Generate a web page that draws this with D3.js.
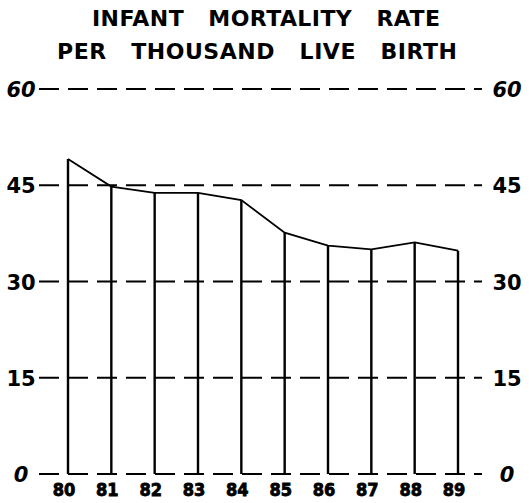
<!doctype html>
<html lang="en">
  <head>
    <meta charset="utf-8">
    <title>Infant mortality rate</title>
    <style>
      body { margin: 0; background: #fff; }
    </style>
  </head>
  <body>
    <script src="https://cdn.jsdelivr.net/npm/d3@7/dist/d3.min.js"></script>
    <script>

    var years  = ["80", "81", "82", "83", "84", "85", "86", "87", "88", "89"];
    var rates  = [49.1, 44.8, 43.8, 43.8, 42.7, 37.6, 35.6, 35.0, 36.1, 34.8];
    var yTicks = [0, 15, 30, 45, 60];
    var titleLines = ["INFANT   MORTALITY   RATE", "PER   THOUSAND   LIVE   BIRTH"];

    var data = years.map(function(d, i){ return {year: d, value: rates[i]}; });

    var width = 529, height = 503;
    var gridLeft = 39, gridRight = 482;

    var svg = d3.select("body")
      .append("svg")
      .attr("width", width)
      .attr("height", height);

    var x = d3.scalePoint()
        .domain(years)
        .range([68, 458]);

    var y = d3.scaleLinear()
        .domain([0, 60])
        .range([474, 89]);

    // title, stretched to the width of the original lettering
    var titleX = [[92, 440], [57, 457]];
    svg.selectAll(".title")
      .data(titleLines)
      .enter()
      .append("text")
      .attr("class", "title")
      .attr("x", function(d, i){ return titleX[i][0]; })
      .attr("y", function(d, i){ return 26 + i * 33; })
      .attr("textLength", function(d, i){ return titleX[i][1] - titleX[i][0]; })
      .attr("lengthAdjust", "spacing")
      .style("font-family", "'DejaVu Sans', sans-serif")
      .style("font-weight", "bold")
      .style("font-size", "22px")
      .style("white-space", "pre")
      .text(function(d){ return d; });

    // dashed horizontal gridlines
    svg.selectAll(".grid")
      .data(yTicks)
      .enter()
      .append("line")
      .attr("class", "grid")
      .attr("x1", gridLeft)
      .attr("x2", gridRight)
      .attr("y1", function(d){ return y(d); })
      .attr("y2", function(d){ return y(d); })
      .attr("stroke", "#000")
      .attr("stroke-width", 2)
      .attr("stroke-dasharray", "20,9");

    // left and right value labels
    var labelFont = "'DejaVu Sans', sans-serif";
    [21, 507].forEach(function(lx){
      svg.selectAll(".ylab" + lx)
        .data(yTicks)
        .enter()
        .append("text")
        .attr("class", "ylab" + lx)
        .attr("x", lx)
        .attr("y", function(d){ return y(d) + 8; })
        .attr("text-anchor", "middle")
        .style("font-family", labelFont)
        .style("font-weight", "bold")
        .style("font-style", function(d){ return (d === 0 || d === 60) ? "italic" : "normal"; })
        .style("font-size", "21px")
        .text(function(d){ return d; });
    });

    // vertical drop lines
    svg.selectAll(".drop")
      .data(data)
      .enter()
      .append("line")
      .attr("class", "drop")
      .attr("x1", function(d){ return x(d.year); })
      .attr("x2", function(d){ return x(d.year); })
      .attr("y1", function(d){ return y(d.value); })
      .attr("y2", y(0))
      .attr("stroke", "#000")
      .attr("stroke-width", 2.4);

    // rate line
    var line = d3.line()
      .x(function(d){ return x(d.year); })
      .y(function(d){ return y(d.value); });

    svg.append("path")
      .datum(data)
      .attr("d", line)
      .attr("fill", "none")
      .attr("stroke", "#000")
      .attr("stroke-width", 1.8);

    // year labels
    svg.selectAll(".xlab")
      .data(data)
      .enter()
      .append("text")
      .attr("class", "xlab")
      .attr("x", function(d){ return x(d.year) - 4; })
      .attr("y", 496)
      .attr("text-anchor", "middle")
      .style("font-family", "'DejaVu Sans Condensed', 'DejaVu Sans', sans-serif")
      .style("font-weight", "bold")
      .style("font-size", "18px")
      .style("stroke", "#000")
      .style("stroke-width", "0.8px")
      .text(function(d){ return d.year; });

    </script>
  </body>
</html>
